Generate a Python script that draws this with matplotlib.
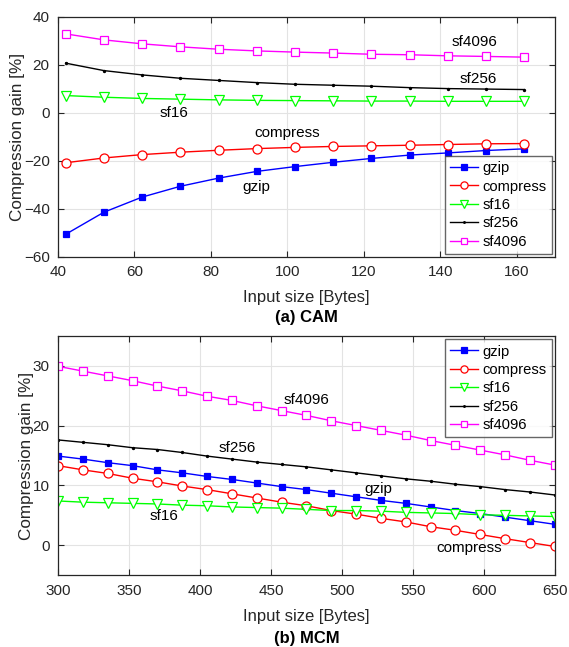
import numpy as np
import matplotlib
matplotlib.use("Agg")
import matplotlib.pyplot as plt

plt.rcParams['font.family'] = ['Liberation Sans', 'DejaVu Sans']

# (a) CAM
cam_x = [42, 52, 62, 72, 82, 92, 102, 112, 122, 132, 142, 152, 162]
cam_gzip = [-50.6, -41.4, -35.1, -30.6, -27.2, -24.4, -22.4, -20.6, -19.0, -17.6, -16.7, -15.7, -15.0]
cam_compress = [-20.8, -18.8, -17.4, -16.4, -15.6, -14.9, -14.4, -14.0, -13.75, -13.5, -13.2, -12.9, -12.8]
cam_sf16 = [7.2, 6.5, 6.0, 5.7, 5.4, 5.2, 5.1, 5.0, 4.9, 4.9, 4.8, 4.8, 4.8]
cam_sf256 = [20.7, 17.6, 15.8, 14.4, 13.5, 12.6, 11.9, 11.5, 11.1, 10.5, 10.1, 9.9, 9.7]
cam_sf4096 = [32.9, 30.4, 28.75, 27.5, 26.5, 25.8, 25.3, 24.9, 24.4, 24.2, 23.75, 23.5, 23.2]

# (b) MCM
mcm_x = [300, 317.5, 335, 352.5, 370, 387.5, 405, 422.5, 440, 457.5, 475,
         492.5, 510, 527.5, 545, 562.5, 580, 597.5, 615, 632.5, 650]
mcm_gzip = [14.9, 14.4, 13.8, 13.3, 12.6, 12.1, 11.5, 11.0, 10.4, 9.8, 9.3,
            8.7, 8.1, 7.5, 7.0, 6.4, 5.8, 5.3, 4.7, 4.1, 3.5]
mcm_compress = [13.3, 12.6, 12.0, 11.2, 10.6, 9.9, 9.3, 8.6, 7.9, 7.2, 6.6,
                5.8, 5.2, 4.5, 3.9, 3.1, 2.5, 1.8, 1.1, 0.45, -0.2]
mcm_sf16 = [7.4, 7.2, 7.1, 7.0, 6.9, 6.7, 6.6, 6.4, 6.3, 6.2, 6.0,
            5.8, 5.8, 5.7, 5.5, 5.4, 5.3, 5.1, 5.0, 4.9, 4.8]
mcm_sf256 = [17.6, 17.2, 16.8, 16.3, 16.0, 15.5, 14.9, 14.4, 13.9, 13.5, 13.1,
             12.6, 12.1, 11.6, 11.1, 10.7, 10.2, 9.8, 9.3, 8.9, 8.4]
mcm_sf4096 = [29.9, 29.1, 28.3, 27.5, 26.6, 25.8, 24.9, 24.2, 23.3, 22.5, 21.7,
              20.8, 20.0, 19.2, 18.4, 17.5, 16.7, 15.9, 15.1, 14.2, 13.4]

names = ["gzip", "compress", "sf16", "sf256", "sf4096"]
styles = [
    dict(color="#0000ff", marker="s", markersize=5, markerfacecolor="#0000ff"),
    dict(color="#ff0000", marker="o", markersize=6.5, markerfacecolor="white"),
    dict(color="#00ff00", marker="v", markersize=7, markerfacecolor="white"),
    dict(color="black", marker=".", markersize=3),
    dict(color="#ff00ff", marker="s", markersize=5.5, markerfacecolor="white"),
]

fig = plt.figure(figsize=(5.69, 6.47), dpi=100)
ax1 = fig.add_axes([0.102, 0.603, 0.873, 0.371])
ax2 = fig.add_axes([0.102, 0.111, 0.873, 0.370])


def draw(ax, x, series, loc, legend_anchor):
    for name, ys, st in zip(names, series, styles):
        ax.plot(x, ys, lw=1, label=name, markeredgewidth=0.9, **st)
    ax.grid(True, color="#e3e3e3", lw=0.8)
    ax.set_axisbelow(True)
    ax.tick_params(direction="in", top=True, right=True, labelsize=11, length=4,
                   pad=6, color="#262626", labelcolor="#262626")
    for s in ax.spines.values():
        s.set_color("#262626")
        s.set_linewidth(0.9)
    ax.set_xlabel("Input size [Bytes]", fontsize=12, color="#262626", labelpad=8)
    ax.set_ylabel("Compression gain [%]", fontsize=12.3, color="#262626", labelpad=-1)
    leg = ax.legend(loc=loc, bbox_to_anchor=legend_anchor, fontsize=10.6, frameon=True,
                    fancybox=False, edgecolor="#404040", handlelength=1.9,
                    handletextpad=0.3, borderpad=0.35, labelspacing=0.3,
                    borderaxespad=0.0, markerscale=0.8)
    leg.get_frame().set_linewidth(1.0)


draw(ax1, cam_x, [cam_gzip, cam_compress, cam_sf16, cam_sf256, cam_sf4096],
     "lower right", (0.994, 0.012))
ax1.set_xlim(40, 170)
ax1.set_ylim(-60, 40)
ax1.set_xticks(np.arange(40, 161, 20))
ax1.set_yticks(np.arange(-60, 41, 20))
for t, xx, yy in [("sf4096", 149, 29.6), ("sf256", 150, 14.2), ("sf16", 70.4, 0),
                  ("compress", 100, -8.3), ("gzip", 92, -30.8)]:
    ax1.text(xx, yy, t, fontsize=11, ha="center", va="center", color="black")
ax1.text(0.5, -0.254, "(a) CAM", transform=ax1.transAxes, fontsize=12,
         fontweight="bold", ha="center", va="center")

draw(ax2, mcm_x, [mcm_gzip, mcm_compress, mcm_sf16, mcm_sf256, mcm_sf4096],
     "upper right", (0.994, 0.985))
ax2.set_xlim(300, 650)
ax2.set_ylim(-5, 35)
ax2.set_xticks(np.arange(300, 651, 50))
ax2.set_yticks([0, 10, 20, 30])
for t, xx, yy in [("sf4096", 475, 24.2), ("sf256", 426, 16.3), ("sf16", 375, 4.9),
                  ("gzip", 526, 9.4), ("compress", 590, -0.5)]:
    ax2.text(xx, yy, t, fontsize=11, ha="center", va="center", color="black")
ax2.text(0.5, -0.264, "(b) MCM", transform=ax2.transAxes, fontsize=12,
         fontweight="bold", ha="center", va="center")

fig.savefig("out.png", dpi=100)
